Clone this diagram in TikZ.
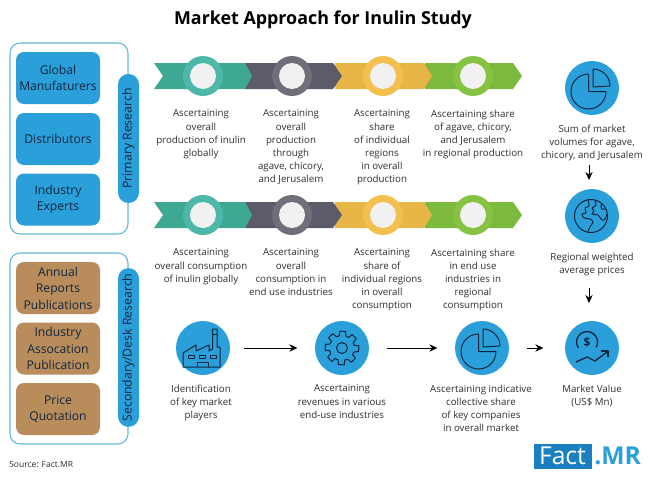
\documentclass[tikz,border=0pt]{standalone}
\usepackage{fontspec}
\usetikzlibrary{arrows.meta}
\setmainfont{Open Sans}
\definecolor{framecol}{HTML}{5DB9D6}
\definecolor{boxblue}{HTML}{2A9FD9}
\definecolor{boxbrown}{HTML}{B98C5C}
\definecolor{navy}{HTML}{12263F}
\definecolor{bodycol}{HTML}{2E2E2E}
\definecolor{logoblue}{HTML}{1A7FBF}
\definecolor{tealband}{HTML}{3FA893}
\definecolor{tealring}{HTML}{4DB8AA}
\definecolor{greyband}{HTML}{5B5B69}
\definecolor{greyring}{HTML}{6F6F79}
\definecolor{yellowband}{HTML}{E8B547}
\definecolor{yellowring}{HTML}{F3BF4E}
\definecolor{greenband}{HTML}{7BBA3C}
\definecolor{greenring}{HTML}{86C342}
\definecolor{ringin}{HTML}{F1F1F1}
\tikzset{
  framebox/.style={draw=framecol, line width=0.8pt, rounded corners=7.5},
  sidebox/.style={rounded corners=6pt, minimum width=63pt, minimum height=39pt, inner sep=0pt,
    align=center, text=navy, font=\fontsize{9.1}{12.4}\selectfont},
  pillbox/.style={fill=boxblue, rounded corners=7.8pt, rotate=90, minimum height=15.75pt, inner sep=0pt,
    text=navy, font=\fontsize{9.2}{12}\selectfont},
  bodytext/.style={anchor=north, align=center, inner sep=0pt, text=bodycol, font=\fontsize{7.3}{9.9}\selectfont},
  iconcircle/.style={circle, fill=boxblue, minimum size=40.5pt, inner sep=0pt},
  iconline/.style={draw=navy, line width=0.75pt, line join=round},
  flowarrow/.style={-{Stealth[length=6pt, width=5.5pt]}, line width=0.75pt, black}
}
\newcommand{\pieicon}[2]{%
  \begin{scope}[shift={(#1,#2)}, yscale=-1]
    \draw[iconline] (-3.5,-3.5) -- (-3.5,14) arc[start angle=90, end angle=360, radius=17.5] -- cycle;
    \draw[iconline] (1,1) -- (1,19) arc[start angle=90, end angle=0, radius=17] -- cycle;
  \end{scope}}
\begin{document}
\begin{tikzpicture}[x=0.75pt, y=-0.75pt]
\useasboundingbox (0,0) rectangle (650,479);

\node[font=\fontsize{13.4}{16}\bfseries\selectfont, text=black] (title) at (323,20) {Market Approach for Inulin Study};

\draw[framebox] (10,43) rectangle (128,234);
\draw[framebox] (10,253) rectangle (128,444);

\node[sidebox, fill=boxblue] (global) at (58,78) {Global\\Manufaturers};
\node[sidebox, fill=boxblue] (distrib) at (58,139) {Distributors};
\node[sidebox, fill=boxblue] (experts) at (58,199.5) {Industry\\Experts};
\node[sidebox, fill=boxbrown] (annual) at (58,288) {Annual\\Reports\\Publications};
\node[sidebox, fill=boxbrown] (assoc) at (58,348.5) {Industry\\Assocation\\Publication};
\node[sidebox, fill=boxbrown] (price) at (58,409) {Price\\Quotation};

\node[pillbox, minimum width=96.75pt] (primary) at (128.5,138.5) {Primary Research};
\node[pillbox, minimum width=119pt] (secondary) at (128.5,347.5) {Secondary/Desk Research};

\foreach \y in {76,215} {
  \foreach \xa/\xb/\xc/\band in {425/513/522/greenband,335/424/432/yellowband,245/333/342/greyband} {
    \fill[\band] (\xa,\y-13) -- (\xb,\y-13) -- (\xc,\y) -- (\xb,\y+13) -- (\xa,\y+13) -- cycle;
  }
  \fill[tealband] (154,\y-13) -- (245,\y-13) -- (252,\y) -- (245,\y+13) -- (154,\y+13) -- (163,\y) -- cycle;
  \foreach \x/\ring in {203/tealring,292/greyring,383/yellowring,473/greenring} {
    \fill[\ring] (\x,\y) circle (20);
    \fill[ringin] (\x,\y) circle (13);
  }
}

\node[bodytext] (prodA) at (201,109.5) {Ascertaining\\overall\\production of inulin\\globally};
\node[bodytext] (prodB) at (291,109.5) {Ascertaining\\overall\\production\\through\\agave, chicory,\\and Jerusalem};
\node[bodytext] (prodC) at (382,109.5) {Ascertaining\\share\\of individual\\regions\\in overall\\production};
\node[bodytext] (prodD) at (473,109.5) {Ascertaining share\\of agave, chicory,\\and Jerusalem\\in regional production};

\node[bodytext] (consA) at (201,248.5) {Ascertaining\\overall consumption\\of inulin globally};
\node[bodytext] (consB) at (291,248.5) {Ascertaining\\overall\\consumption in\\end use industries};
\node[bodytext] (consC) at (382,248.5) {Ascertaining\\share of\\individual regions\\in overall\\consumption};
\node[bodytext] (consD) at (473,248.5) {Ascertaining share\\in end use\\industries in\\regional\\consumption};

\node[iconcircle] (volumes) at (592,88) {};
\node[iconcircle] (regions) at (592,216) {};
\node[iconcircle] (value) at (592,348) {};
\node[iconcircle] (players) at (203,348) {};
\node[iconcircle] (revenue) at (342,348) {};
\node[iconcircle] (share) at (482,348) {};

\node[bodytext] (volumestxt) at (592,124.5) {Sum of market\\volumes for agave,\\chicory, and Jerusalem};
\node[bodytext] (regionstxt) at (592,252.5) {Regional weighted\\average prices};
\node[bodytext] (valuetxt) at (592,384.5) {Market Value\\(US\$ Mn)};
\node[bodytext] (playerstxt) at (201,384.5) {Identification\\of key market\\players};
\node[bodytext] (revenuetxt) at (342,384.5) {Ascertaining\\revenues in various\\end-use industries};
\node[bodytext] (sharetxt) at (481,384.5) {Ascertaining indicative\\collective share\\of key companies\\in overall market};

\draw[flowarrow, shorten <=10, shorten >=13] (players) -- (revenue);
\draw[flowarrow, shorten <=13, shorten >=13] (revenue) -- (share);
\draw[flowarrow, shorten <=13, shorten >=16] (share) -- (value);
\coordinate (downA) at (589,165);
\coordinate (downB) at (589,180);
\coordinate (downC) at (589,288);
\coordinate (downD) at (589,303);
\draw[flowarrow] (downA) -- (downB);
\draw[flowarrow] (downC) -- (downD);

\pieicon{592}{88}
\pieicon{482}{348}

\begin{scope}[shift={(591,216)}, yscale=-1]
  \draw[iconline] (0,0) circle (16.5);
  \draw[iconline] plot[smooth] coordinates {(-3,16) (-2,10) (-6,8) (-5,3) (-9,2) (-7,-2) (-1,-3) (2,-6) (-1,-11) (-3,-15.5)};
  \draw[iconline] plot[smooth] coordinates {(4,16) (5,11) (1,8) (3,5) (1,2) (7,1) (11,-4) (14,-3) (16,2)};
  \draw[iconline] plot[smooth] coordinates {(15,7) (11,7) (10,11) (11,12.5)};
\end{scope}

\begin{scope}[shift={(342,348)}]
  \draw[iconline] (12:17) \foreach \a in {45,90,...,360} { -- ({\a-33}:17) -- ({\a-26}:12.5) -- ({\a-12}:12.5) -- ({\a-8}:17)} -- cycle;
  \draw[iconline] (0,0) circle (5.5);
\end{scope}

\draw[iconline] (183,367) -- (183,353) -- (196,345) -- (196,351) -- (209,345) -- (209,351) -- (212.5,349)
  -- (212.5,329) -- (217,329) -- (217,347) -- (220,347) -- (220,367) -- cycle;
\draw[iconline] (212.5,334) -- (217,334);
\draw[iconline] (188,355) rectangle (194,358);
\draw[iconline] (199,355) rectangle (205,358);
\draw[iconline] (210,355) rectangle (216,358);
\draw[iconline] (197,367) -- (197,362) -- (208,362) -- (208,367);

\begin{scope}[shift={(592,348)}, yscale=-1]
  \draw[iconline, line width=1pt] (-5,6) ++(215:10.5) arc[start angle=215, end angle=-30, radius=10.5];
  \node[text=navy, font=\fontsize{9}{10}\bfseries\selectfont, inner sep=0pt] (dollar) at (-5,6) {\$};
  \draw[iconline, line width=1pt] (-16,-14) -- (-5,-9) -- (3,-13) -- (15,-4);
  \draw[iconline, line width=1pt] (9,-3) -- (16,-3) -- (16,-9);
\end{scope}

\node[anchor=west, inner sep=0pt, text=bodycol, font=\fontsize{6.4}{8}\selectfont] (source) at (9,464) {Source: Fact.MR};

\fill[logoblue] (534,444) rectangle (592,469);
\node[text=white, inner sep=0pt, font=\fontsize{18.5}{22}\selectfont] (factlogo) at (562.5,456) {Fact};
\node[anchor=west, text=boxblue, inner sep=0pt, font=\fontsize{18.5}{22}\bfseries\selectfont] (mrlogo) at (594,456) {.MR};

\end{tikzpicture}
\end{document}
